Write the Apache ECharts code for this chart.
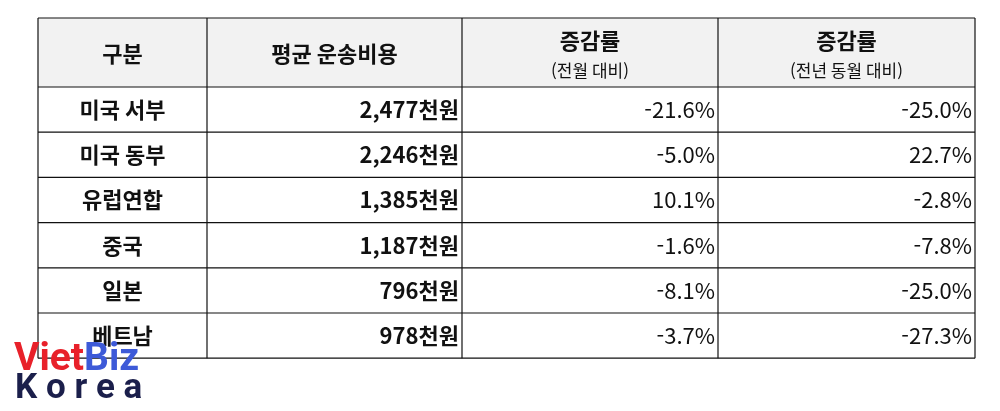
<!DOCTYPE html>
<html lang="ko">
<head>
<meta charset="UTF-8">
<title>평균 운송비용</title>
<script src="https://cdn.jsdelivr.net/npm/echarts/dist/echarts.min.js"></script>
<style>
    body { margin: 0; padding: 0; background: #fff; }
    #chart { width: 1000px; height: 411px; }
</style>
</head>
<body>
<div id="chart"></div>
<script>
    // 표 데이터
    const headers = ["구분", "평균 운송비용", "증감률", "증감률"];
    const subHeaders = ["", "", "(전월 대비)", "(전년 동월 대비)"];
    const regions = ["미국 서부", "미국 동부", "유럽연합", "중국", "일본", "베트남"];
    const costs = ["2,477천원", "2,246천원", "1,385천원", "1,187천원", "796천원", "978천원"];
    const momChange = ["-21.6%", "-5.0%", "10.1%", "-1.6%", "-8.1%", "-3.7%"];
    const yoyChange = ["-25.0%", "22.7%", "-2.8%", "-7.8%", "-25.0%", "-27.3%"];

    const font = '"Noto Sans CJK KR", "Noto Sans", sans-serif';
    const colX = [38, 207, 462, 718, 975];
    const tableTop = 18, headH = 69, rowH = 45.2;

    const chart = echarts.init(document.getElementById("chart"));
    const els = [];

    // 헤더 배경
    els.push({ type: "rect", shape: { x: colX[0], y: tableTop, width: colX[4] - colX[0], height: headH },
        style: { fill: "#f2f2f2" } });

    // 헤더 텍스트
    headers.forEach((h, i) => {
        const cx = (colX[i] + colX[i + 1]) / 2;
        const hasSub = subHeaders[i] !== "";
        els.push({ type: "text", style: { text: h, x: cx, y: hasSub ? tableTop + 23 : tableTop + headH / 2 + 1,
            align: "center", verticalAlign: "middle", font: "bold 22px " + font, fill: "#111" } });
        if (hasSub) {
            els.push({ type: "text", style: { text: subHeaders[i], x: cx, y: tableTop + 53,
                align: "center", verticalAlign: "middle", font: "17px " + font, fill: "#111" } });
        }
    });

    // 본문
    regions.forEach((r, j) => {
        const cy = tableTop + headH + rowH * (j + 0.5);
        els.push({ type: "text", style: { text: r, x: (colX[0] + colX[1]) / 2, y: cy,
            align: "center", verticalAlign: "middle", font: "bold 22px " + font, fill: "#111" } });
        els.push({ type: "text", style: { text: costs[j], x: colX[2] - 3, y: cy,
            align: "right", verticalAlign: "middle", font: "bold 22px " + font, fill: "#111" } });
        els.push({ type: "text", style: { text: momChange[j], x: colX[3] - 3, y: cy,
            align: "right", verticalAlign: "middle", font: "22px " + font, fill: "#111" } });
        els.push({ type: "text", style: { text: yoyChange[j], x: colX[4] - 3, y: cy,
            align: "right", verticalAlign: "middle", font: "22px " + font, fill: "#111" } });
    });

    // 격자선
    const tableBottom = tableTop + headH + rowH * regions.length;
    for (let j = 0; j <= regions.length + 1; j++) {
        const y = j === 0 ? tableTop : tableTop + headH + rowH * (j - 1);
        els.push({ type: "line", shape: { x1: colX[0], y1: y, x2: colX[4], y2: y },
            style: { stroke: "#111", lineWidth: 1.2 } });
    }
    colX.forEach(x => {
        els.push({ type: "line", shape: { x1: x, y1: tableTop, x2: x, y2: tableBottom },
            style: { stroke: "#111", lineWidth: 1.2 } });
    });

    // 로고
    els.push({ type: "text", style: { text: "{r|Viet}{b|Biz}", x: 14, y: 380, verticalAlign: "bottom",
        rich: {
            r: { font: "bold 39px Roboto, sans-serif", fill: "#e8212a" },
            b: { font: "bold 39px Roboto, sans-serif", fill: "#3d5ad8" }
        } } });
    els.push({ type: "text", style: { text: "K o r e a", x: 15, y: 407, verticalAlign: "bottom",
        font: "bold 35px Roboto, sans-serif", fill: "#1b1f4b" } });

    chart.setOption({ animation: false, graphic: { elements: els } });
</script>
</body>
</html>
